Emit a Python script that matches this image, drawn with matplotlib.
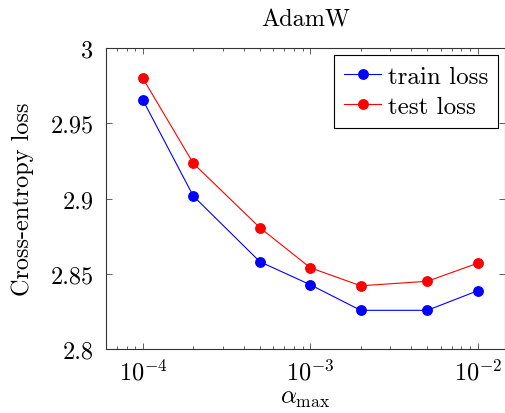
import matplotlib
matplotlib.use("Agg")
import matplotlib.pyplot as plt
from matplotlib.ticker import LogLocator, NullFormatter

plt.rcParams['font.family'] = 'serif'
plt.rcParams['font.serif'] = ['cmr10']
plt.rcParams['mathtext.fontset'] = 'cm'
plt.rcParams['axes.formatter.use_mathtext'] = True

# data
alpha_max = [1e-4, 2e-4, 5e-4, 1e-3, 2e-3, 5e-3, 1e-2]
train_loss = [2.9655, 2.9017, 2.858, 2.8427, 2.8257, 2.8257, 2.8387]
test_loss = [2.9799, 2.9234, 2.8806, 2.854, 2.842, 2.845, 2.857]
y_ticks = [2.8, 2.85, 2.9, 2.95, 3.0]
y_tick_labels = ['2.8', '2.85', '2.9', '2.95', '3']

fig = plt.figure(figsize=(5.06, 4.14), dpi=100)
ax = fig.add_axes([0.2095, 0.1546, 0.7885, 0.727])

ax.plot(alpha_max, train_loss, color='blue', marker='o', markersize=6.8,
        linewidth=0.8, label='train loss')
ax.plot(alpha_max, test_loss, color='red', marker='o', markersize=6.8,
        linewidth=0.8, label='test loss')

ax.set_xscale('log')
ax.set_xlim(10 ** -4.22, 10 ** -1.837)
ax.set_ylim(2.8, 3.0)
ax.set_yticks(y_ticks)
ax.set_yticklabels(y_tick_labels)
ax.xaxis.set_major_locator(LogLocator(base=10, numticks=10))
ax.xaxis.set_minor_locator(LogLocator(base=10, subs=range(2, 10), numticks=20))
ax.xaxis.set_minor_formatter(NullFormatter())

ax.tick_params(which='both', direction='in', top=True, right=True,
               labelsize=17.5, color='#444444', width=0.6)
ax.tick_params(which='major', length=4.5)
ax.tick_params(which='minor', length=2.5)
ax.tick_params(axis='x', which='major', pad=7)
ax.tick_params(axis='y', which='major', pad=9)
for s in ax.spines.values():
    s.set_linewidth(0.8)
    s.set_color('#333333')

ax.set_title('AdamW', fontsize=17.5, pad=16)
ax.set_xlabel(r'$\alpha_{\max}$', fontsize=18, labelpad=2)
ax.set_ylabel('Cross-entropy loss', fontsize=17.5, labelpad=12)

leg = ax.legend(loc='upper right', fontsize=18, fancybox=False, framealpha=1,
                edgecolor='black', borderpad=0.4, handlelength=1.5,
                handletextpad=0.25, labelspacing=0.3, borderaxespad=0.28)
leg.get_frame().set_linewidth(0.8)

fig.savefig('out.png', dpi=100)
